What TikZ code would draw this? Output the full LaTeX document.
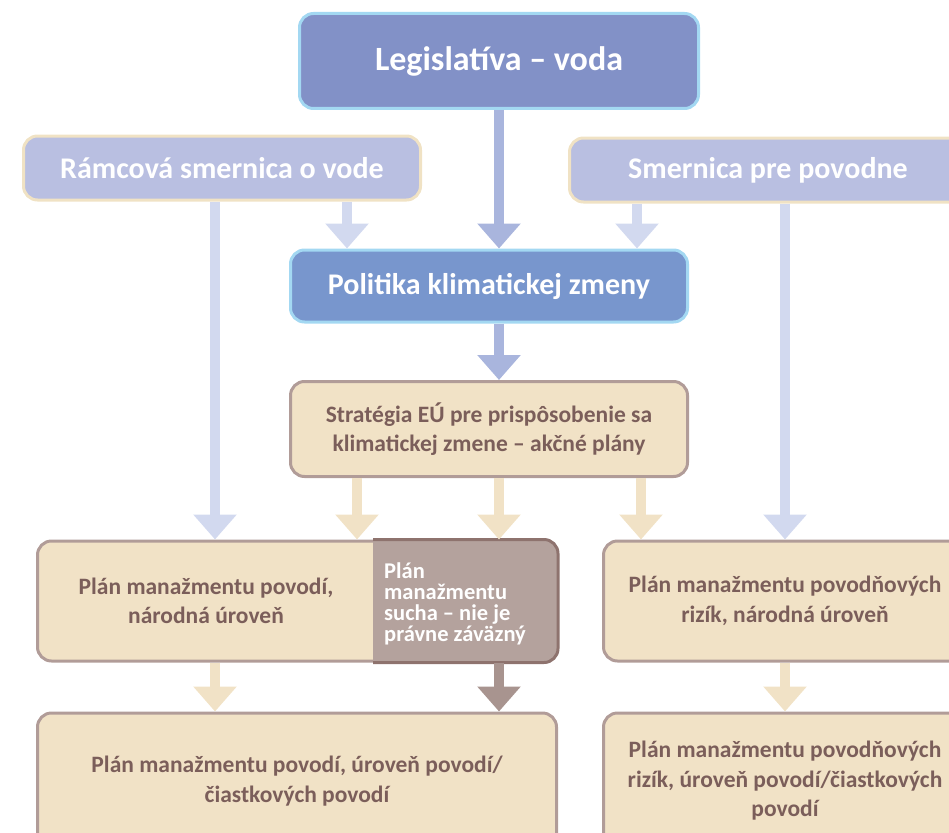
\documentclass[tikz,border=0pt]{standalone}
\usepackage{fontspec}
\setmainfont{Carlito}
\usetikzlibrary{arrows.meta,calc}

\definecolor{topfill}{HTML}{8291C7}
\definecolor{polfill}{HTML}{7896CD}
\definecolor{lightfill}{HTML}{B9BFE1}
\definecolor{cyanedge}{HTML}{A3D8F2}
\definecolor{creamedge}{HTML}{F0E2C4}
\definecolor{beigefill}{HTML}{F1E2C6}
\definecolor{beigeedge}{HTML}{B19C98}
\definecolor{beigetext}{HTML}{7B5E5A}
\definecolor{dryfill}{HTML}{B4A29D}
\definecolor{dryedge}{HTML}{8E736E}
\definecolor{arr_main}{HTML}{A9B5DD}
\definecolor{arr_light}{HTML}{D2D9EF}
\definecolor{arr_dry}{HTML}{A8948F}

\begin{document}
\begin{tikzpicture}[
    x=1pt, y=-1pt,
    box/.style={rectangle,rounded corners=14pt,line width=3pt,inner sep=0pt,
      align=center,font=\bfseries},
    box_top/.style={box,fill=topfill,draw=cyanedge,text=white},
    box_pol/.style={box,fill=polfill,draw=cyanedge,text=white},
    box_dir/.style={box,fill=lightfill,draw=creamedge,text=white},
    box_plan/.style={box,fill=beigefill,draw=beigeedge,text=beigetext,
      font=\bfseries\fontsize{23.5}{29.5}\selectfont},
    dry_txt/.style={inner sep=0pt,align=left,text=white,
      font=\bfseries\fontsize{22.5}{21}\selectfont},
    arr/.style={line width=10pt,-{Triangle[width=42pt,length=25pt]}},
    arr_m/.style={arr,color=arr_main},
    arr_l/.style={arr,color=arr_light},
    arr_b/.style={arr,color=beigefill},
    arr_d/.style={arr,color=arr_dry}
  ]
    \useasboundingbox (0,0) rectangle (949,832);
    \clip (0,0) rectangle (949,832);

    % columns of the arrows
    \coordinate (col_a) at (215,0);
    \coordinate (col_b) at (347,0);
    \coordinate (col_c) at (499,0);
    \coordinate (col_d) at (637,0);
    \coordinate (col_e) at (785,0);
    \coordinate (col_f) at (357,0);
    \coordinate (col_g) at (641,0);

    % boxes
    \node[box_top, minimum width=399pt, minimum height=95pt,
      font=\bfseries\fontsize{34}{40}\selectfont] (legis) at (499,61) {Legislatíva -- voda};
    \node[box_dir, minimum width=397pt, minimum height=64pt,
      font=\bfseries\fontsize{30}{34}\selectfont] (rvode) at (222,168) {Rámcová smernica o vode};
    \node[box_dir, minimum width=397pt, minimum height=64pt,
      font=\bfseries\fontsize{30}{34}\selectfont] (spov) at (768,170) {Smernica pre povodne};
    \node[box_pol, minimum width=397pt, minimum height=72pt,
      font=\bfseries\fontsize{30}{34}\selectfont] (polit) at (489,286) {Politika klimatickej zmeny};
    \node[box_plan, minimum width=397pt, minimum height=95pt] (strat) at (489,429)
      {Stratégia EÚ pre prispôsobenie sa\\klimatickej zmene -- akčné plány};
    \node[box_plan, minimum width=519pt, minimum height=120pt] (plan_nat) at (297,601)
      {\hspace*{-182pt}Plán manažmentu povodí,\\\hspace*{-182pt}národná úroveň};
    \node[box_plan, minimum width=363pt, minimum height=120pt] (rizik_nat) at (785,601)
      {Plán manažmentu povodňových\\rizík, národná úroveň};
    \node[box_plan, minimum width=519pt, minimum height=136pt] (plan_pov) at (297,781)
      {Plán manažmentu povodí, úroveň povodí/\\čiastkových povodí};
    \node[box_plan, minimum width=363pt, minimum height=136pt] (rizik_pov) at (785,781)
      {Plán manažmentu povodňových\\rizík, úroveň povodí/čiastkových\\povodí};

    % drought part of the national plan
    \coordinate (dry_nw) at (373,0);
    \fill[dryfill, rounded corners=14pt] (dry_nw |- plan_nat.north) rectangle (plan_nat.south east);
    \fill[dryfill] (dry_nw |- plan_nat.north) rectangle ([xshift=20pt]dry_nw |- plan_nat.south);
    \draw[dryedge, line width=3pt, rounded corners=14pt] (dry_nw |- plan_nat.north)
      -- (plan_nat.north east) -- (plan_nat.south east) -- (dry_nw |- plan_nat.south);
    \node[dry_txt, anchor=west] (dry) at ($(dry_nw |- plan_nat.east)+(11,3)$)
      {Plán\\manažmentu\\sucha -- nie je\\právne záväzný};

    % arrows
    \draw[arr_m] (legis.south -| col_c) -- (polit.north -| col_c);
    \draw[arr_l] (rvode.south -| col_b) -- (polit.north -| col_b);
    \draw[arr_l] (spov.south -| col_d) -- (polit.north -| col_d);
    \draw[arr_l] (rvode.south -| col_a) -- (plan_nat.north -| col_a);
    \draw[arr_l] (spov.south -| col_e) -- (rizik_nat.north -| col_e);
    \draw[arr_m] (polit.south -| col_c) -- (strat.north -| col_c);
    \draw[arr_b] (strat.south -| col_f) -- (plan_nat.north -| col_f);
    \draw[arr_b] (strat.south -| col_c) -- (plan_nat.north -| col_c);
    \draw[arr_b] (strat.south -| col_g) -- (rizik_nat.north -| col_g);
    \draw[arr_b] (plan_nat.south -| col_a) -- (plan_pov.north -| col_a);
    \draw[arr_d] (plan_nat.south -| col_c) -- (plan_pov.north -| col_c);
    \draw[arr_b] (rizik_nat.south -| col_e) -- (rizik_pov.north -| col_e);
\end{tikzpicture}
\end{document}
